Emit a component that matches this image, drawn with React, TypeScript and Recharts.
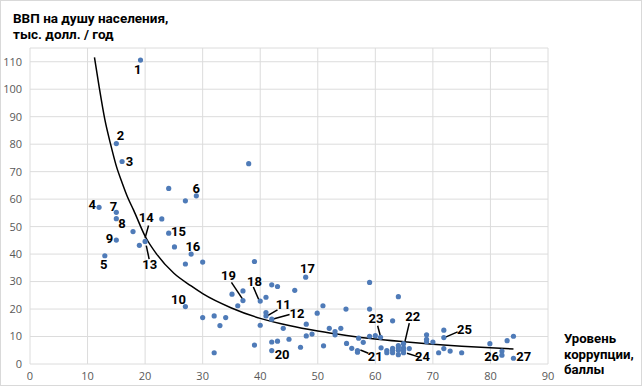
import React from 'react';
import {
  ComposedChart, Scatter, Line, XAxis, YAxis, CartesianGrid, ReferenceLine,
} from 'recharts';

// corruption score (x) and GDP per capita, thousand $ (y)
const corruption = [
  19.2, 15.0, 16.0, 38.0, 24.1, 27.0, 28.9, 12.0, 15.0, 15.0, 22.9, 17.9, 24.1, 15.0, 20.0, 19.0,
  25.1, 28.0, 13.0, 27.0, 30.0, 39.0, 47.9, 42.0, 43.0, 46.0, 35.1, 37.0, 37.0, 36.1, 40.0, 41.0,
  27.0, 50.9, 49.9, 54.9, 41.0, 41.0, 42.0, 30.0, 32.0, 34.0, 33.0, 40.0, 44.0, 48.0, 48.0, 49.0,
  52.0, 53.0, 54.0, 53.0, 55.0, 39.0, 42.0, 43.0, 45.0, 47.0, 51.0, 42.0, 32.0, 55.9, 56.9, 56.9,
  57.9, 57.1, 59.0, 59.0, 59.0, 60.0, 60.9, 61.0, 62.0, 62.0, 63.0, 63.0, 63.0, 63.0, 64.0, 64.0,
  64.0, 64.0, 64.0, 64.9, 64.9, 64.9, 64.9, 65.9, 68.9, 68.9, 68.9, 70.0, 71.0, 71.9, 71.9, 71.9,
  73.0, 75.0, 79.9, 82.0, 82.0, 82.9, 84.0, 84.0,
];
const gdp = [
  110.6, 80.2, 73.7, 72.9, 63.9, 59.4, 61.2, 57.0, 55.2, 52.9, 52.8, 48.2, 47.6, 45.1, 44.6, 43.2,
  42.6, 40.0, 39.4, 36.4, 37.1, 37.3, 31.6, 28.8, 28.2, 26.8, 25.4, 26.6, 23.1, 21.2, 22.9, 24.3,
  20.9, 21.2, 18.5, 20.0, 18.7, 17.5, 16.3, 16.9, 17.5, 16.9, 14.0, 14.1, 13.0, 14.5, 10.2, 10.9,
  13.0, 11.8, 13.0, 10.6, 7.5, 6.9, 8.0, 8.3, 9.0, 6.1, 6.6, 4.9, 4.1, 5.7, 4.9, 4.3,
  7.9, 9.4, 29.7, 20.0, 10.1, 10.3, 9.7, 5.9, 4.9, 4.1, 15.7, 5.7, 5.0, 4.1, 24.5, 6.7,
  5.9, 5.0, 3.4, 7.4, 5.9, 5.0, 4.1, 5.6, 10.6, 9.0, 8.1, 8.0, 4.1, 12.3, 9.6, 5.6,
  4.7, 4.1, 7.4, 4.7, 3.2, 8.5, 10.1, 2.1,
];

// power trendline
const trendX = [11.2, 12, 13, 14, 15, 16, 17, 18, 20, 22, 25, 28, 30, 35, 40, 45, 50, 55, 60, 65, 70, 75, 80, 84];
const trendY = [111.6, 101, 89, 80, 72, 66, 60.5, 56, 46.5, 40, 33, 28.4, 25.6, 20.4, 16.6, 14, 12, 10.4, 9.1, 8.1, 7.2, 6.5, 5.9, 5.5];

// country numbers and where their text sits (data coords)
const labelNums = ['1', '2', '3', '4', '5', '6', '7', '8', '9', '10', '11', '12', '13', '14',
  '15', '16', '17', '18', '19', '20', '21', '22', '23', '24', '25', '26', '27'];
const labelX = [18.7, 15.7, 17.3, 10.8, 12.8, 28.9, 14.5, 16.0, 13.8, 25.8, 44.0, 46.4, 20.8, 20.2,
  25.8, 28.3, 48.2, 39.0, 34.5, 43.8, 60.0, 66.5, 60.1, 68.2, 75.5, 80.2, 85.8];
const labelY = [107, 83.2, 73.7, 58, 36.1, 64, 57.2, 51.1, 45.6, 23.4, 21.8, 18.4, 36.1, 53.3,
  48.3, 42.7, 34.9, 30.2, 32.1, 3.3, 2.9, 17.3, 16.7, 2.9, 12.4, 2.7, 2.9];

// leader lines [x1, y1, x2, y2]
const leaders = [
  [20.6, 50.4, 20.0, 45.9],
  [20.2, 43.1, 20.7, 38.2],
  [35.0, 29.7, 37.0, 23.4],
  [38.8, 28.0, 39.8, 23.2],
  [43.0, 19.7, 41.2, 17.5],
  [45.1, 18.0, 42.1, 16.3],
  [58.8, 3.9, 57.4, 5.1],
  [60.4, 13.9, 60.9, 10.0],
  [65.9, 14.9, 65.1, 7.8],
  [65.5, 3.9, 67.8, 2.4],
  [74.3, 11.7, 72.1, 9.7],
];

const xTicks = [0, 10, 20, 30, 40, 50, 60, 70, 80, 90];
const yTicks = [0, 10, 20, 30, 40, 50, 60, 70, 80, 90, 100, 110];

const points = corruption.map((x, i) => ({ x, y: gdp[i] }));
const trend = trendX.map((x, i) => ({ x, y: trendY[i] }));
const labels = labelNums.map((n, i) => ({ x: labelX[i], y: labelY[i], n }));

const tickStyle = { fontSize: 11, fill: '#595959', fontFamily: 'Open Sans' };
const titleStyle: React.CSSProperties = {
  position: 'absolute',
  fontFamily: 'Roboto',
  fontWeight: 700,
  color: '#000',
  whiteSpace: 'nowrap',
};

export default function App() {
  return (
    <div style={{ position: 'fixed', left: 0, top: 0, width: 640, height: 384, border: '1px solid #D9D9D9', background: '#fff' }}>
      <ComposedChart width={640} height={384} margin={{ top: 47, right: 93, bottom: 0, left: -1 }}>
        <CartesianGrid stroke="#DCDCDC" />
        <XAxis
          type="number"
          dataKey="x"
          domain={[0, 90]}
          ticks={xTicks}
          tick={tickStyle}
          axisLine={false}
          tickLine={false}
          height={21}
        />
        <YAxis
          type="number"
          dataKey="y"
          domain={[0, 115]}
          ticks={yTicks}
          tick={tickStyle}
          axisLine={false}
          tickLine={false}
          width={30}
        />
        <Scatter data={points} fill="#4F7BB8" isAnimationActive={false}
          shape={(p: any) => <circle cx={p.cx} cy={p.cy} r={2.6} fill="#4F7BB8" />} />
        <Line data={trend} dataKey="y" type="monotone" stroke="#000" strokeWidth={1.5} dot={false}
          isAnimationActive={false} />
        {leaders.map((l, i) => (
          <ReferenceLine key={i} segment={[{ x: l[0], y: l[1] }, { x: l[2], y: l[3] }]}
            stroke="#000" strokeWidth={1.5} />
        ))}
        <Scatter data={labels} isAnimationActive={false}
          shape={(p: any) => (
            <text x={p.cx} y={p.cy} textAnchor="middle" dominantBaseline="central"
              fontFamily="Roboto" fontWeight={700} fontSize={13} fill="#000">
              {p.payload.n}
            </text>
          )} />
      </ComposedChart>
      <div style={{ ...titleStyle, left: 12, top: 9, fontSize: 13.5, lineHeight: '16px' }}>
        ВВП на душу населения,<br />тыс. долл. / год
      </div>
      <div style={{ ...titleStyle, left: 563, top: 330, fontSize: 13.2, lineHeight: '15.5px' }}>
        Уровень<br />коррупции,<br />баллы
      </div>
    </div>
  );
}
